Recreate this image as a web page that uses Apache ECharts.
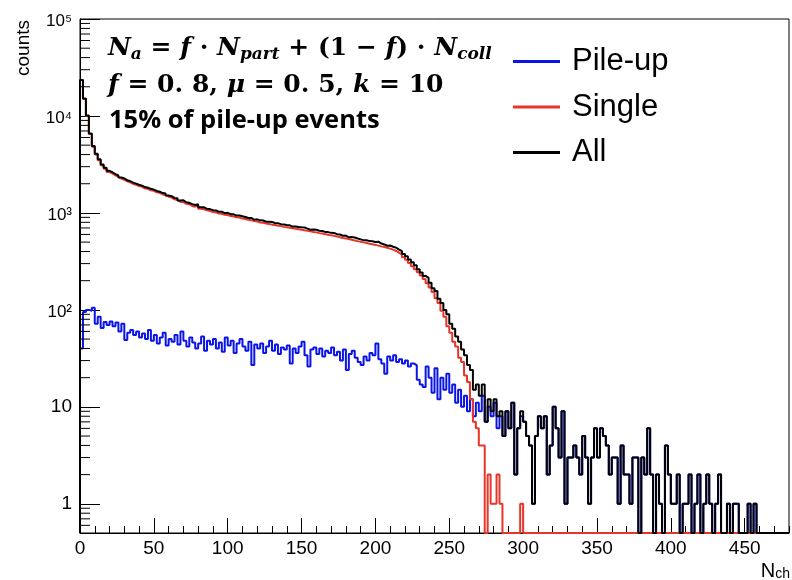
<!DOCTYPE html>
<html><head><meta charset="utf-8">
<script src="https://cdn.jsdelivr.net/npm/echarts@6/dist/echarts.min.js"></script>
<style>html,body{margin:0;padding:0;background:#fff}#c{width:792px;height:580px}</style>
</head><body><div id="c"></div>
<script>
// ---- data (bins of width 2 starting at 0) ----
const binStart = 0;
const binWidth = 2;
const xMin = 0, xMax = 480;
const yMin = 0.5, yMax = 100000;

const pileup = [
  40,95,100,98,105,72,85,65,75,70,
  76,68,74,60,72,49,58,62,55,60,
  52,57,50,62,48,55,45,52,58,43,
  50,47,55,44,60,48,42,52,46,40,
  45,53,38,48,44,50,40,46,37,52,
  43,48,36,45,50,42,38,47,27,44,
  40,45,36,42,48,38,44,35,41,39,
  43,28,40,36,42,47,34,26,39,41,
  35,40,33,38,36,41,34,37,30,39,
  24,35,38,32,29,27,33,30,36,34,
  45,31,28,22,33,30,34,29,31,28,
  30,26,28,27,19,17,16,26,20,14,
  25,12,20,15,22,14,17,11,15,10,
  13,9,12,8,11,9,13,7,10,8,
  11,6,8,5,9,6,11,2,6,8,
  7,5,4,1,5,8,6,8,2,4,
  10,6,3,9,1,3,3,4,3,2,
  5,3,1,3,6,3,6,5,4,2,
  3,3,1,4,2,2,1,3,3,0,
  3,2,6,2,0,2,1,0,4,2,
  1,1,2,0,1,1,2,0,1,2,
  0,1,2,1,0,1,2,0,0,1,
  0,1,1,0,0,0,1,0,1,0,
  0,0,0,0,0,0,0,0,0,0
];

const single = [
  23500,15000,10000,6500,4800,4000,3500,3100,2850,2650,
  2550,2440,2360,2260,2200,2120,2070,1990,1950,1890,
  1860,1790,1770,1710,1690,1630,1610,1550,1530,1470,
  1440,1380,1360,1300,1290,1240,1230,1180,1160,1190,
  1102,1090,1063,1047,1024,1012,988,982,958,951,
  928,920,903,896,874,866,848,841,823,815,
  798,791,777,770,757,750,737,731,718,712,
  702,695,686,680,670,662,654,646,636,630,
  619,612,604,596,587,580,570,562,552,545,
  537,528,520,512,505,497,490,482,475,468,
  460,452,445,437,428,418,405,390,372,350,
  328,305,282,262,244,226,208,188,170,153,
  132,118,98,85,68,58,47,42,32,29,
  21,18,12,7,6,4,4,0,2,1,
  1,2,1,0,0,0,0,0,0,1,
  0,0,0,0,0,0,0,0,0,0,
  0,0,0,0,0,0,0,0,0,0,
  0,0,0,0,0,0,0,0,0,0,
  0,0,0,0,0,0,0,0,0,0,
  0,0,0,0,0,0,0,0,0,0,
  0,0,0,0,0,0,0,0,0,0,
  0,0,0,0,0,0,0,0,0,0,
  0,0,0,0,0,0,0,0,0,0,
  0,0,0,0,0,0,0,0,0,0
];

const all = [
  23540,15095,10100,6598,4905,4072,3585,3165,2925,2720,
  2626,2508,2434,2320,2272,2169,2128,2052,2005,1950,
  1912,1847,1820,1772,1738,1685,1655,1602,1588,1513,
  1490,1427,1415,1344,1350,1288,1272,1232,1206,1230,
  1147,1143,1101,1095,1068,1062,1028,1028,995,1003,
  971,968,939,941,924,908,886,888,850,859,
  838,836,813,812,805,788,781,766,759,751,
  745,723,726,716,712,709,688,672,675,671,
  654,652,637,634,623,621,604,599,582,584,
  561,563,558,544,534,524,523,512,511,502,
  505,483,473,459,461,448,439,419,403,378,
  358,331,310,289,263,243,224,214,190,167,
  157,130,118,100,90,72,64,53,47,39,
  34,27,24,15,17,13,17,7,12,9,
  12,8,9,5,9,6,11,2,6,9,
  7,5,4,1,5,8,6,8,2,4,
  10,6,3,9,1,3,3,4,3,2,
  5,3,1,3,6,3,6,5,4,2,
  3,3,1,4,2,2,1,3,3,0,
  3,2,6,2,0,2,1,0,4,2,
  1,1,2,0,1,1,2,0,1,2,
  0,1,2,1,0,1,2,0,0,1,
  0,1,1,0,0,0,1,0,1,0,
  0,0,0,0,0,0,0,0,0,0
];

const seriesNames = ['Pile-up', 'Single', 'All'];
const seriesColors = ['#0a14e8', '#e8352a', '#000000'];
const yMajorLabels = {0: '1', 1: '10', 2: '10²', 3: '10³', 4: '10⁴', 5: '10⁵'};
const yMinorTicks = [0.6,0.7,0.8,0.9];
[1,10,100,1000,10000].forEach(d => { for (let k = 2; k <= 9; k++) yMinorTicks.push(k * d); });

// ---- build step histogram points ----
function histPoints(vals) {
  const pts = [[binStart, yMin]];
  vals.forEach((v, i) => pts.push([binStart + i * binWidth, v > 0 ? v : yMin]));
  const last = vals[vals.length - 1];
  pts.push([binStart + vals.length * binWidth, last > 0 ? last : yMin]);
  return pts;
}

const FONT = 'Liberation Sans';
const SERIF = 'DejaVu Serif';
const chart = echarts.init(document.getElementById('c'), null, {renderer: 'canvas'});
const lineSeries = [pileup, single, all].map((vals, i) => ({
  name: seriesNames[i], type: 'line', step: 'end', data: histPoints(vals),
  showSymbol: false, symbol: 'none', animation: false,
  lineStyle: {color: seriesColors[i], width: 2}, itemStyle: {color: seriesColors[i]},
  xAxisIndex: 0, yAxisIndex: 0, z: 2 + i
}));

chart.setOption({
  animation: false,
  backgroundColor: '#fff',
  grid: {left: 80, right: 3, top: 19, bottom: 47, show: true, borderColor: '#000', borderWidth: 1, backgroundColor: 'transparent'},
  xAxis: [{
    type: 'value', min: xMin, max: xMax, interval: 50, position: 'bottom',
    axisLine: {lineStyle: {color: '#000', width: 1}},
    axisTick: {inside: true, length: 15, lineStyle: {color: '#000'}},
    axisLabel: {color: '#000', fontSize: 19, fontFamily: FONT, margin: 6, showMaxLabel: false},
    splitLine: {show: false}
  }, {
    type: 'value', min: xMin, max: xMax, interval: 10, position: 'bottom',
    axisLine: {show: false},
    axisTick: {inside: true, length: 7, lineStyle: {color: '#000'}},
    axisLabel: {show: false}, splitLine: {show: false}
  }],
  yAxis: {
    type: 'log', logBase: 10, min: yMin, max: yMax, splitNumber: 6,
    axisLine: {show: true, lineStyle: {color: '#000', width: 1}},
    axisTick: {inside: true, length: 20, lineStyle: {color: '#000'}},
    splitLine: {show: false}, minorTick: {show: false},
    axisLabel: {
      color: '#000', fontFamily: FONT, margin: 8, showMinLabel: false,
      formatter: v => {
        if (v < 0.99) return '';
        const e = Math.round(Math.log10(v));
        return (e <= 1 ? '{n|' : '{m|') + yMajorLabels[e] + '}';
      },
      rich: {
        n: {fontSize: 19, fontFamily: FONT, color: '#000'},
        m: {fontSize: 17, fontFamily: FONT, color: '#000', padding: [5, 0, 0, 0]}
      }
    }
  },
  legend: {
    data: seriesNames, orient: 'vertical', left: 513, top: 46, itemGap: 14.5, padding: 0,
    itemWidth: 47, itemHeight: 3, icon: 'rect',
    textStyle: {fontSize: 31, fontFamily: FONT, color: '#000', lineHeight: 30, padding: [0, 0, 0, 7]}
  },
  graphic: [
    {type: 'text', left: 108, top: 36, style: {
      text: '{v|N}{s|a}{o| = }{v|f}{o| · }{v|N}{s|part}{o| + (1 − }{v|f}{o|) · }{v|N}{s|coll}',
      rich: {
        v: {fontSize: 25, fontFamily: SERIF, fontStyle: 'italic', fontWeight: 'bold', fill: '#000', lineHeight: 30, verticalAlign: 'middle'},
        o: {fontSize: 25, fontFamily: SERIF, fontWeight: 'bold', fill: '#000', lineHeight: 30, verticalAlign: 'middle'},
        s: {fontSize: 17, fontFamily: SERIF, fontStyle: 'italic', fontWeight: 'bold', fill: '#000', lineHeight: 20, verticalAlign: 'bottom'}
      }}},
    {type: 'text', left: 108, top: 73, style: {
      text: '{v|f}{o| = 0. 8, }{v|μ}{o| = 0. 5, }{v|k}{o| = 10}',
      rich: {
        v: {fontSize: 25, fontFamily: SERIF, fontStyle: 'italic', fontWeight: 'bold', fill: '#000', lineHeight: 30},
        o: {fontSize: 25, fontFamily: SERIF, fontWeight: 'bold', fill: '#000', lineHeight: 30}
      }}},
    {type: 'text', left: 109, top: 108, style: {
      text: '15% of pile-up events', fontSize: 25.5, fontFamily: 'Open Sans', fontWeight: 'bold', fill: '#000'}},
    {type: 'text', x: 24, y: 20, rotation: Math.PI / 2, style: {
      text: 'counts', fontSize: 19, fontFamily: FONT, fill: '#000', align: 'right', verticalAlign: 'middle'}},
    {type: 'text', right: 2, top: 555, style: {
      text: '{n|N}{s|ch}',
      rich: {
        n: {fontSize: 20, fontFamily: FONT, fill: '#000', lineHeight: 20, verticalAlign: 'top'},
        s: {fontSize: 14, fontFamily: FONT, fill: '#000', lineHeight: 14, verticalAlign: 'bottom', padding: [12, 0, 0, 0]}
      }}}
  ],
  series: lineSeries.concat([{
    type: 'custom', name: 'yminor', coordinateSystem: 'cartesian2d', xAxisIndex: 0, yAxisIndex: 0,
    data: yMinorTicks.map(v => [xMin, v]), silent: true, clip: false, z: 10,
    encode: {x: 0, y: 1},
    renderItem: (params, api) => {
      const p = api.coord([api.value(0), api.value(1)]);
      return {type: 'line', shape: {x1: p[0], y1: p[1], x2: p[0] + 10, y2: p[1]}, style: {stroke: '#000', lineWidth: 1}};
    }
  }])
});
</script>
</body></html>
